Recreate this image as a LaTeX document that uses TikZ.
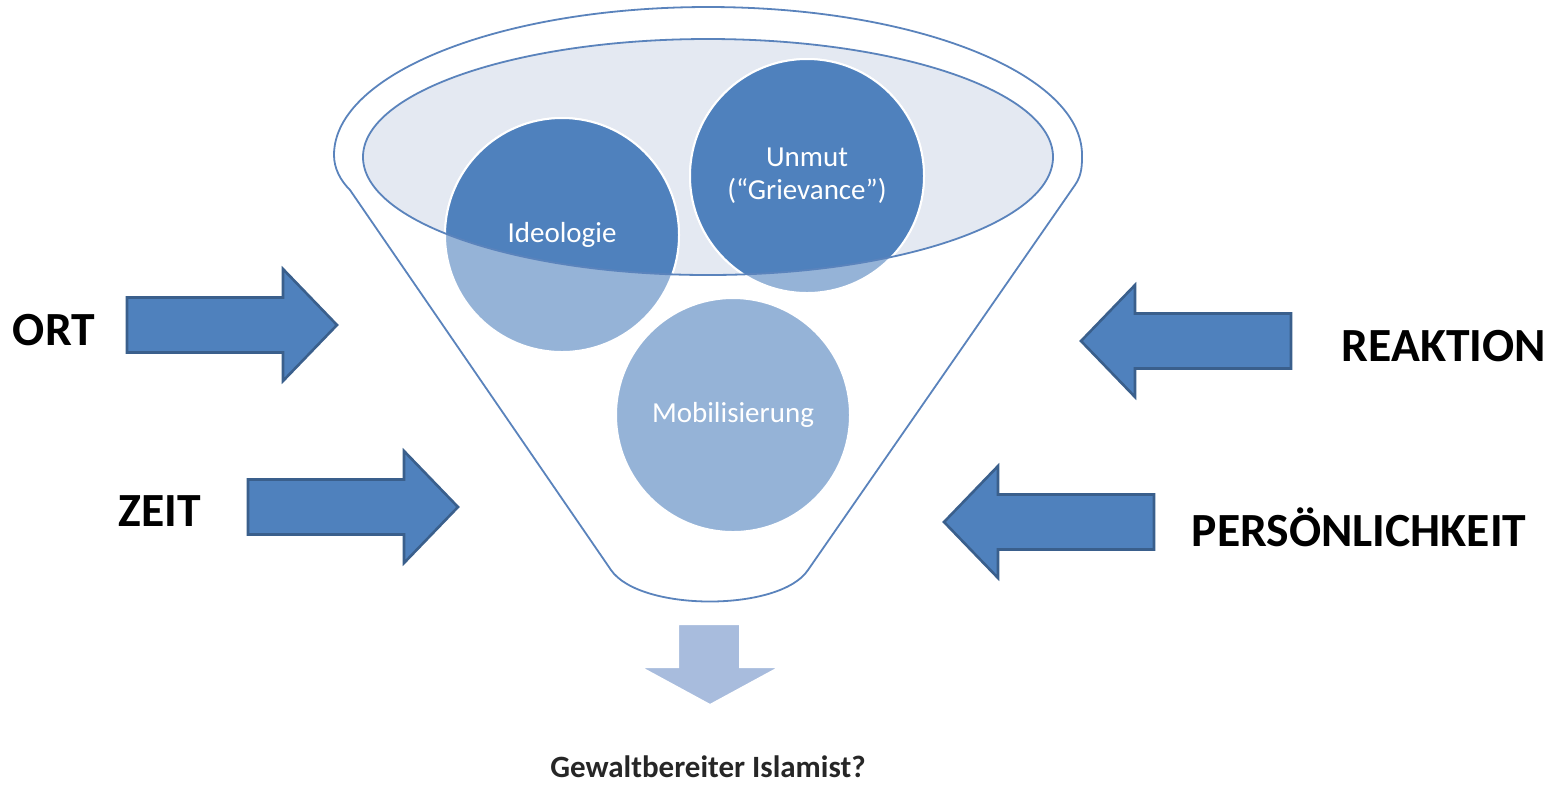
\documentclass[tikz,border=0pt]{standalone}
\usepackage{fontspec}
\setmainfont{Carlito}
\usetikzlibrary{positioning}

\definecolor{kreisdunkel}{HTML}{4F81BD}
\definecolor{kreishell}{HTML}{95B3D7}
\definecolor{innenfarbe}{HTML}{E4E9F2}
\definecolor{trichterrand}{HTML}{5A83BC}
\definecolor{pfeilblau}{HTML}{4F81BD}
\definecolor{pfeilrand}{HTML}{3A5F8C}
\definecolor{pfeilhell}{HTML}{A8BCDD}
\definecolor{schrift}{HTML}{262626}

\tikzset{
	fatarrow/.style={fill=pfeilblau, draw=pfeilrand, line width=1.3pt, line join=miter},
	faktor/.style={font=\fontsize{23.8}{28}\selectfont\bfseries, text=black},
	kreistext/.style={font=\fontsize{14.5}{16.5}\selectfont, text=white, align=center},
	kreis/.style={draw=white, line width=1pt}
}

% Blockpfeil mit Spitze im Ursprung, zeigt nach rechts
\newcommand{\dickpfeil}{\draw[fatarrow] (0,0) -- (-54,-56) -- (-54,-27.5) -- (-210,-27.5) -- (-210,27.5) -- (-54,27.5) -- (-54,56) -- cycle;}

\begin{document}
\begin{tikzpicture}[x=0.5pt, y=-0.5pt]
	\useasboundingbox (0,0) rectangle (1558,784);

	% Trichter
	\draw[trichterrand, line width=0.9pt, fill=white] (350,190) -- (611,570) .. controls (640,612) and (780,612) .. (808,570) -- (1075,185) .. controls (1082,175) and (1082,165) .. (1082,155) arc[start angle=0, end angle=-180, x radius=374, y radius=148] .. controls (334,168) and (340,180) .. cycle;
	\fill[innenfarbe] (708,157) ellipse [x radius=345, y radius=118];

	% Kreise
	\coordinate (c-ideo) at (562,235);
	\coordinate (c-unmut) at (807,176);
	\coordinate (c-mobil) at (733,415);
	\foreach \c in {c-ideo, c-unmut, c-mobil}
		\fill[kreishell, kreis] (\c) circle[radius=117];
	\begin{scope}
		\clip (708,157) ellipse [x radius=345, y radius=118];
		\foreach \c in {c-ideo, c-unmut}
			\fill[kreisdunkel, kreis] (\c) circle[radius=117];
	\end{scope}
	\draw[trichterrand, line width=0.9pt] (708,157) ellipse [x radius=345, y radius=118];

	\node[kreistext] (ideo) at (c-ideo) {Ideologie};
	\node[kreistext] (unmut) at (c-unmut) {Unmut\\(“Grievance”)};
	\node[kreistext] (mobil) at (c-mobil) {Mobilisierung};

	% Einflussfaktoren
	\begin{scope}[shift={(337,325)}] \dickpfeil \end{scope}
	\begin{scope}[shift={(458,507)}] \dickpfeil \end{scope}
	\begin{scope}[shift={(1081,341)}, xscale=-1] \dickpfeil \end{scope}
	\begin{scope}[shift={(944,522)}, xscale=-1] \dickpfeil \end{scope}

	\node[faktor] (ort) at (54,330) {ORT};
	\node[faktor] (zeit) at (160,511) {ZEIT};
	\node[faktor] (reaktion) at (1444,346) {REAKTION};
	\node[faktor] (pers) at (1359,527) {PERSÖNLICHKEIT};

	% Ergebnis
	\draw[fill=pfeilhell, draw=white, line width=1pt] (678,624) -- (740,624) -- (740,667) -- (780,667) -- (710,705) -- (640,667) -- (678,667) -- cycle;
	\node[font=\fontsize{15.5}{18}\selectfont\bfseries, text=schrift, inner sep=0pt] (ziel) at (708,767) {Gewaltbereiter Islamist?};
\end{tikzpicture}
\end{document}
